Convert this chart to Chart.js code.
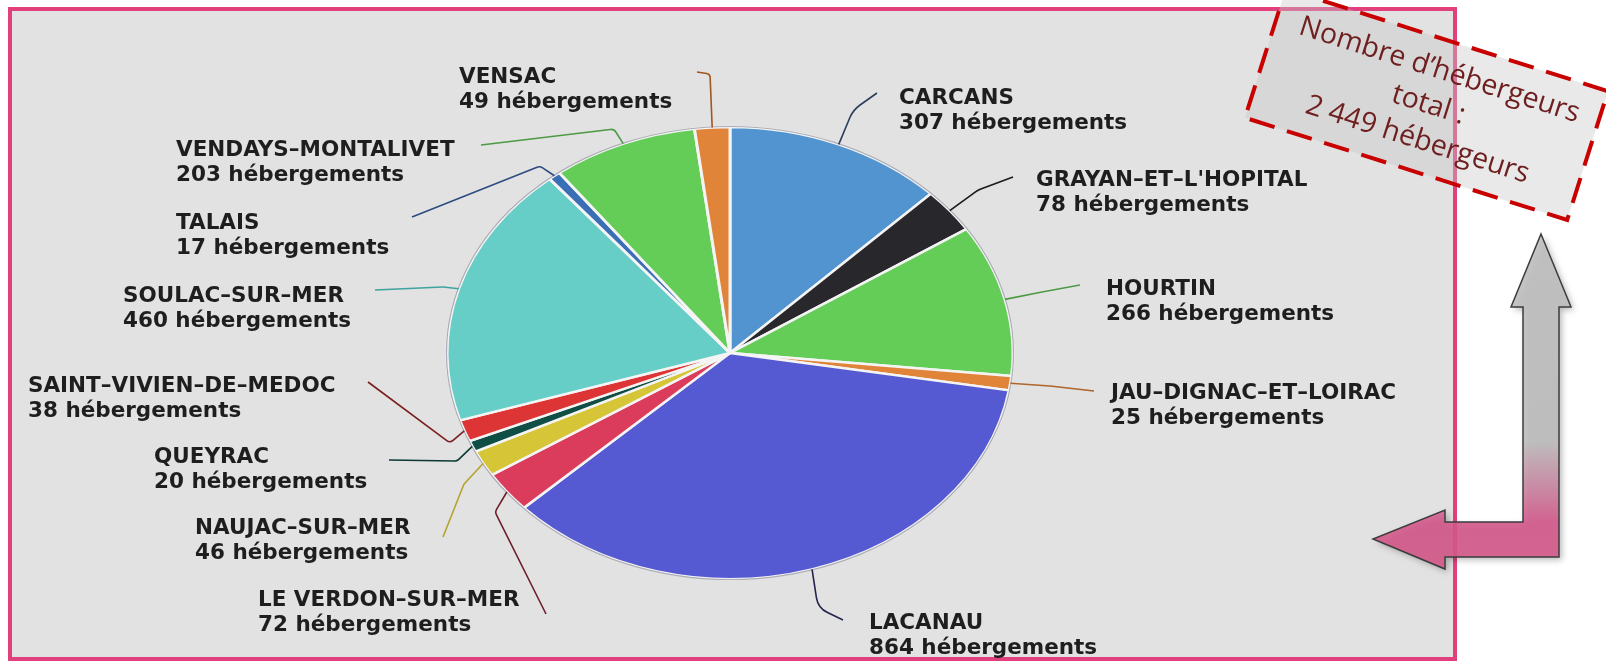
<!DOCTYPE html>
<html>
<head>
<meta charset="utf-8">
<script src="https://cdn.jsdelivr.net/npm/chart.js@4.4.1/dist/chart.umd.min.js"></script>
<style>
  html, body { margin: 0; padding: 0; background: #fff; }
  body { width: 1606px; height: 661px; position: relative; overflow: hidden; }
  #frame { position: absolute; left: 8px; top: 7px; width: 1441px; height: 646px;
           border: 4px solid #e1407d; background: #e2e2e2; }
  #pie { position: absolute; left: 0; top: 0; }
</style>
</head>
<body>
<div id="frame"></div>
<canvas id="pie" width="1606" height="661"></canvas>
<script>
// data, clockwise from 12 o'clock
const communes = ['CARCANS', 'GRAYAN–ET–L\'HOPITAL', 'HOURTIN', 'JAU–DIGNAC–ET–LOIRAC', 'LACANAU',
  'LE VERDON–SUR–MER', 'NAUJAC–SUR–MER', 'QUEYRAC', 'SAINT–VIVIEN–DE–MEDOC', 'SOULAC–SUR–MER',
  'TALAIS', 'VENDAYS–MONTALIVET', 'VENSAC'];
const hebergements = [307, 78, 266, 25, 864, 72, 46, 20, 38, 460, 17, 203, 49];
const unite = 'hébergements';
const totalText = ['Nombre d’hébergeurs', 'total :', '2 449 hébergeurs'];

const sliceColors = ['#5294d0', '#28282c', '#64cd57', '#e0843a', '#565ad2', '#dc3c5c', '#d6c537',
  '#0e4e45', '#dd3535', '#67cdc7', '#3a6fb5', '#64cd57', '#e0843a'];
const leaderColors = ['#2c3e5e', '#1a1a1a', '#4d9a45', '#b0642e', '#23244e', '#6e1f2e', '#b4a32c',
  '#0b3a34', '#7a2020', '#3fa3a0', '#2c4c80', '#4d9a45', '#a0561f'];

// label placement: [x, y of first line]
const labelAt = [[899, 98], [1036, 180], [1106, 289], [1111, 393], [869, 623], [258, 600],
  [195, 528], [154, 457], [28, 386], [123, 296], [176, 223], [176, 150], [459, 77]];
// leader line: elbow and end point, corner radius
const leaderVia = [
  [[853, 110], [877, 93], 30], [[978, 190], [1013, 177], 22], [[1042, 292], [1080, 285], 4],
  [[1050, 386], [1094, 391], 4], [[818, 608], [843, 620], 20], [[495, 512], [546, 614], 5],
  [[464, 484], [443, 537], 6], [[457, 461], [389, 460], 5], [[450, 443], [368, 382], 5],
  [[443, 287], [375, 290], 5], [[540, 166], [412, 217], 6], [[614, 129], [481, 145], 6],
  [[710, 74], [697, 72], 4]];

const ellipseRatio = 226 / 283;

function edgePoint(arc) {
  const a = (arc.startAngle + arc.endAngle) / 2;
  return [arc.x + arc.outerRadius * Math.cos(a), arc.y + arc.outerRadius * ellipseRatio * Math.sin(a)];
}

// squash the round pie into the flat ellipse of the picture
const squashPie = {
  id: 'squashPie',
  beforeDatasetsDraw(chart) {
    const arc = chart.getDatasetMeta(0).data[0];
    const ctx = chart.ctx;
    ctx.save();
    ctx.translate(arc.x, arc.y);
    ctx.scale(1, ellipseRatio);
    ctx.translate(-arc.x, -arc.y);
  },
  afterDatasetsDraw(chart) {
    const ctx = chart.ctx;
    ctx.restore();
    const arc = chart.getDatasetMeta(0).data[0];
    ctx.save();
    ctx.beginPath();
    ctx.ellipse(arc.x, arc.y, arc.outerRadius + 0.5, arc.outerRadius * ellipseRatio + 0.5, 0, 0, Math.PI * 2);
    ctx.strokeStyle = 'rgba(40,40,70,0.35)';
    ctx.lineWidth = 1.2;
    ctx.stroke();
    ctx.restore();
  }
};

const calloutLabels = {
  id: 'calloutLabels',
  afterDraw(chart) {
    const ctx = chart.ctx;
    const arcs = chart.getDatasetMeta(0).data;
    ctx.save();
    arcs.forEach((arc, i) => {
      const [sx, sy] = edgePoint(arc);
      const [elbow, end, r] = leaderVia[i];
      ctx.beginPath();
      ctx.moveTo(sx, sy);
      ctx.arcTo(elbow[0], elbow[1], end[0], end[1], r);
      ctx.lineTo(end[0], end[1]);
      ctx.strokeStyle = leaderColors[i];
      ctx.lineWidth = 1.6;
      ctx.lineJoin = 'round';
      ctx.stroke();

      ctx.font = 'bold 21.5px "DejaVu Sans"';
      ctx.fillStyle = '#1e1e1e';
      ctx.textAlign = 'left';
      ctx.textBaseline = 'middle';
      const [lx, ly] = labelAt[i];
      ctx.fillText(communes[i], lx, ly);
      ctx.fillText(hebergements[i] + ' ' + unite, lx, ly + 25);
    });
    ctx.restore();
  }
};

const totalBox = {
  id: 'totalBox',
  afterDraw(chart) {
    const ctx = chart.ctx;
    // bent arrow
    ctx.save();
    const g = ctx.createLinearGradient(0, 234, 0, 569);
    g.addColorStop(0, '#bfbfbf');
    g.addColorStop(0.62, '#bdbdbd');
    g.addColorStop(0.86, '#d4598b');
    g.addColorStop(1, '#d65a8b');
    ctx.beginPath();
    ctx.moveTo(1541, 234);
    ctx.lineTo(1571, 307);
    ctx.lineTo(1559, 307);
    ctx.lineTo(1559, 557);
    ctx.lineTo(1445, 557);
    ctx.lineTo(1445, 569);
    ctx.lineTo(1373, 539);
    ctx.lineTo(1445, 510);
    ctx.lineTo(1445, 522);
    ctx.lineTo(1523, 522);
    ctx.lineTo(1523, 307);
    ctx.lineTo(1511, 307);
    ctx.closePath();
    ctx.shadowColor = 'rgba(0,0,0,0.3)';
    ctx.shadowBlur = 6;
    ctx.shadowOffsetX = 3;
    ctx.shadowOffsetY = 3;
    ctx.globalAlpha = 0.9;
    ctx.fillStyle = g;
    ctx.fill();
    ctx.shadowColor = 'transparent';
    ctx.globalAlpha = 1;
    ctx.strokeStyle = '#3c3c3c';
    ctx.lineWidth = 1.5;
    ctx.stroke();
    ctx.restore();

    // rotated dashed box with the total
    ctx.save();
    ctx.translate(1426.5, 104.5);
    ctx.rotate(17.6 * Math.PI / 180);
    ctx.fillStyle = 'rgba(200,200,200,0.4)';
    ctx.fillRect(-169, -67.5, 338, 135);
    ctx.setLineDash([26, 13]);
    ctx.strokeStyle = '#c80000';
    ctx.lineWidth = 4;
    ctx.strokeRect(-169, -67.5, 338, 135);
    ctx.font = '28.5px "Open Sans"';
    ctx.fillStyle = '#6e1f1f';
    ctx.textAlign = 'center';
    ctx.textBaseline = 'middle';
    totalText.forEach((t, k) => ctx.fillText(t, 2, (k - 1) * 36.5));
    ctx.restore();
  }
};

new Chart(document.getElementById('pie').getContext('2d'), {
  type: 'pie',
  data: {
    labels: communes,
    datasets: [{
      data: hebergements,
      backgroundColor: sliceColors,
      borderColor: '#f4f4f4',
      borderWidth: 3,
      radius: 283
    }]
  },
  options: {
    responsive: false,
    animation: false,
    events: [],
    layout: { padding: { left: 447, right: 593, top: 70, bottom: 25 } },
    plugins: {
      legend: { display: false },
      tooltip: { enabled: false }
    }
  },
  plugins: [squashPie, calloutLabels, totalBox]
});
</script>
</body>
</html>
